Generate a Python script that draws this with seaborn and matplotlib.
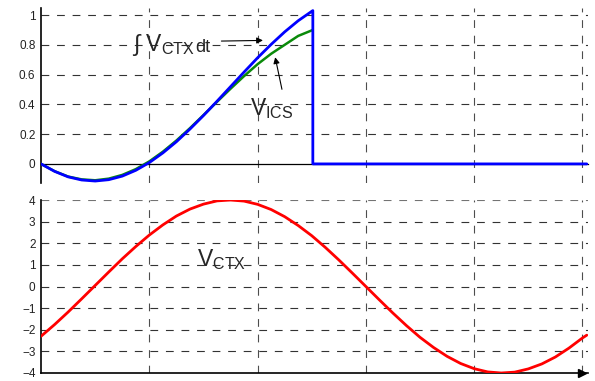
import matplotlib
matplotlib.use("Agg")
import matplotlib.pyplot as plt
import seaborn as sns
import numpy as np

# time axis in grid divisions
t_int = [0, 0.125, 0.25, 0.375, 0.5, 0.625, 0.75, 0.875, 1.0, 1.125, 1.25,
         1.375, 1.5, 1.625, 1.75, 1.875, 2.0, 2.125, 2.25, 2.375, 2.5, 2.51]
v_int = [0, -0.050, -0.087, -0.108, -0.115, -0.106, -0.082, -0.043, 0.009,
         0.074, 0.149, 0.234, 0.325, 0.421, 0.519, 0.617, 0.713, 0.803,
         0.887, 0.962, 1.025, 1.03]
v_ics = [0, -0.049, -0.085, -0.104, -0.110, -0.099, -0.074, -0.035, 0.017,
         0.082, 0.157, 0.240, 0.328, 0.417, 0.505, 0.590, 0.670, 0.740,
         0.800, 0.860, 0.897, 0.90]
t_reset = [2.51, 5.04]

t_ctx = [0, 0.125, 0.25, 0.375, 0.5, 0.625, 0.75, 0.875, 1.0, 1.125, 1.25,
         1.375, 1.5, 1.625, 1.75, 1.875, 2.0, 2.125, 2.25, 2.375, 2.5, 2.625,
         2.75, 2.875, 3.0, 3.125, 3.25, 3.375, 3.5, 3.625, 3.75, 3.875, 4.0,
         4.125, 4.25, 4.375, 4.5, 4.625, 4.75, 4.875, 5.0, 5.04]
v_ctx = [-2.30, -1.76, -1.18, -0.57, 0.05, 0.67, 1.28, 1.85, 2.38, 2.85, 3.26,
         3.58, 3.81, 3.96, 4.00, 3.95, 3.80, 3.56, 3.23, 2.82, 2.35, 1.81,
         1.23, 0.62, 0.00, -0.62, -1.23, -1.81, -2.35, -2.82, -3.23, -3.56,
         -3.80, -3.95, -4.00, -3.96, -3.81, -3.58, -3.26, -2.85, -2.38, -2.25]

top_ticks = [0, 0.2, 0.4, 0.6, 0.8, 1]
top_labels = ['0', '0.2', '0.4', '0.6', '0.8', '1']
bot_ticks = [-4, -3, -2, -1, 0, 1, 2, 3, 4]
bot_labels = ['\u22124', '\u22123', '\u22122', '\u22121', '0', '1', '2', '3', '4']
x_grid = [1, 2, 3, 4, 5]

sns.set_style('white')
plt.rcParams['font.family'] = ['Liberation Sans', 'DejaVu Sans']
plt.rcParams['mathtext.fontset'] = 'custom'
plt.rcParams['mathtext.rm'] = 'Liberation Sans'

fig = plt.figure(figsize=(5.95, 3.81), dpi=100)
ax_top = fig.add_axes([0.069, 0.519, 0.919, 0.461])
ax_bot = fig.add_axes([0.069, 0.021, 0.919, 0.454])

dash = (0, (7, 7))
for ax in (ax_top, ax_bot):
    ax.set_xlim(0, 5.05)
    for s in ('top', 'right'):
        ax.spines[s].set_visible(False)
    ax.spines['left'].set_color('black')
    ax.spines['left'].set_linewidth(1.2)
    ax.set_xticks([])
    ax.tick_params(axis='y', length=0, pad=4, labelsize=8.5, colors='#222222')
    for xg in x_grid:
        ax.axvline(xg, color='0.3', lw=0.8, ls=dash, zorder=1)

# top panel
ax_top.set_ylim(-0.13, 1.05)
ax_top.set_yticks(top_ticks)
ax_top.set_yticklabels(top_labels)
ax_top.spines['bottom'].set_position(('data', 0))
ax_top.spines['bottom'].set_color('black')
ax_top.spines['bottom'].set_linewidth(0.9)
for yg in top_ticks[1:]:
    ax_top.axhline(yg, color='0.2', lw=0.8, ls=dash, zorder=1)

sns.lineplot(x=t_int, y=v_ics, ax=ax_top, color='#0a8a0a', lw=1.8,
             estimator=None, sort=False, zorder=3)
sns.lineplot(x=t_int + t_reset, y=v_int + [0, 0], ax=ax_top, color='#0000ff',
             lw=2.0, estimator=None, sort=False, zorder=4)

lab = ax_top.text(0.84, 0.80, '\u222b ' + r'$\mathrm{V}_{\mathrm{CTX}}$',
                  fontsize=16.5, va='center', ha='left')
ax_top.annotate('dt', xy=(1.0, 0.22), xycoords=lab, fontsize=13,
                va='baseline', ha='left')
ax_top.annotate('', xy=(2.075, 0.83), xytext=(1.64, 0.825),
                arrowprops=dict(arrowstyle='-|>', color='black', lw=0.8,
                                mutation_scale=9))
ax_top.text(1.93, 0.37, r'$\mathrm{V}_{\mathrm{ICS}}$', fontsize=16.5,
            va='center', ha='left')
ax_top.annotate('', xy=(2.157, 0.735), xytext=(2.23, 0.483),
                arrowprops=dict(arrowstyle='-|>', color='black', lw=0.8,
                                mutation_scale=9))

# bottom panel
ax_bot.set_ylim(-4, 4)
ax_bot.set_yticks(bot_ticks)
ax_bot.set_yticklabels(bot_labels)
ax_bot.spines['bottom'].set_color('black')
ax_bot.spines['bottom'].set_linewidth(1.2)
for yg in bot_ticks[1:]:
    ax_bot.axhline(yg, color='0.2' if yg < 4 else '0.45', lw=0.8, ls=dash,
                   zorder=1)
ax_bot.plot(5.0, -4, marker='>', color='black', ms=6, clip_on=False, zorder=5)

sns.lineplot(x=t_ctx, y=v_ctx, ax=ax_bot, color='#ff0000', lw=2.0,
             estimator=None, sort=False, zorder=4)
ax_bot.text(1.44, 1.25, r'$\mathrm{V}_{\mathrm{CTX}}$', fontsize=16.5,
            va='center', ha='left')

for ax in (ax_top, ax_bot):
    if ax.get_legend() is not None:
        ax.get_legend().remove()

fig.savefig('out.png', dpi=100)
